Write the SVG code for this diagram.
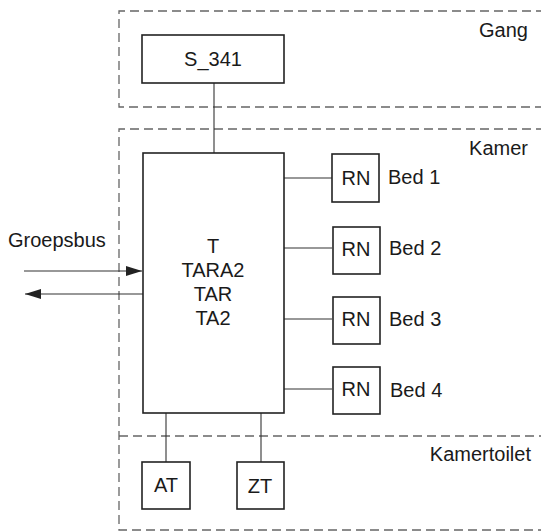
<svg xmlns="http://www.w3.org/2000/svg" width="541" height="532" viewBox="0 0 541 532">
<style>
  .zone { fill: none; stroke: #666; stroke-width: 1.3; stroke-dasharray: 9 5; }
  .box { fill: #fff; stroke: #222; stroke-width: 1.6; }
  .wire { fill: none; stroke: #333; stroke-width: 1.1; }
  text { font-family: "Liberation Sans", Arial, sans-serif; font-size: 20px; fill: #1a1a1a; }
  .c { text-anchor: middle; }
  .r { text-anchor: end; }
</style>
<defs>
  <marker id="ah" viewBox="0 0 16 10" refX="16" refY="5" markerWidth="16" markerHeight="10" markerUnits="userSpaceOnUse" orient="auto">
    <path d="M0,0 L16,5 L0,10 Z" fill="#222"/>
  </marker>
</defs>

<g id="zones">
  <path class="zone" d="M545,11 H119 V107 H545"/>
  <path class="zone" d="M545,129 H119 V530 H545"/>
  <path class="zone" d="M119,436 H545"/>
  <text class="r" x="528" y="37">Gang</text>
  <text class="r" x="528" y="155">Kamer</text>
  <text class="r" x="531" y="461">Kamertoilet</text>
</g>

<g id="connectors">
  <line class="wire" x1="214" y1="83" x2="214" y2="153"/>
  <line class="wire" x1="284" y1="178" x2="332" y2="178"/>
  <line class="wire" x1="284" y1="248" x2="332" y2="248"/>
  <line class="wire" x1="284" y1="319" x2="332" y2="319"/>
  <line class="wire" x1="284" y1="389" x2="332" y2="389"/>
  <line class="wire" x1="166" y1="413" x2="166" y2="462"/>
  <line class="wire" x1="261" y1="413" x2="261" y2="462"/>
  <line class="wire" x1="24" y1="271" x2="142" y2="271" marker-end="url(#ah)"/>
  <line class="wire" x1="143" y1="294" x2="25" y2="294" marker-end="url(#ah)"/>
  <text x="8" y="247">Groepsbus</text>
</g>

<g id="S_341">
  <rect class="box" x="142" y="35" width="142" height="48"/>
  <text class="c" x="213" y="66">S_341</text>
</g>

<g id="main">
  <rect class="box" x="143" y="153" width="141" height="260"/>
  <text class="c" x="213" y="253">T</text>
  <text class="c" x="213" y="277">TARA2</text>
  <text class="c" x="213" y="301">TAR</text>
  <text class="c" x="213" y="325">TA2</text>
</g>

<g id="RN1">
  <rect class="box" x="332" y="154" width="47" height="48"/>
  <text class="c" x="356" y="185">RN</text>
  <text x="388" y="184">Bed 1</text>
</g>
<g id="RN2">
  <rect class="box" x="333" y="227" width="47" height="47"/>
  <text class="c" x="356" y="256">RN</text>
  <text x="389" y="255">Bed 2</text>
</g>
<g id="RN3">
  <rect class="box" x="333" y="297" width="47" height="47"/>
  <text class="c" x="356" y="326">RN</text>
  <text x="389" y="326">Bed 3</text>
</g>
<g id="RN4">
  <rect class="box" x="333" y="367" width="47" height="47"/>
  <text class="c" x="356" y="396">RN</text>
  <text x="390" y="397">Bed 4</text>
</g>

<g id="AT">
  <rect class="box" x="142" y="462" width="48" height="47"/>
  <text class="c" x="166" y="492">AT</text>
</g>
<g id="ZT">
  <rect class="box" x="237" y="462" width="47" height="47"/>
  <text class="c" x="260" y="493">ZT</text>
</g>
</svg>
